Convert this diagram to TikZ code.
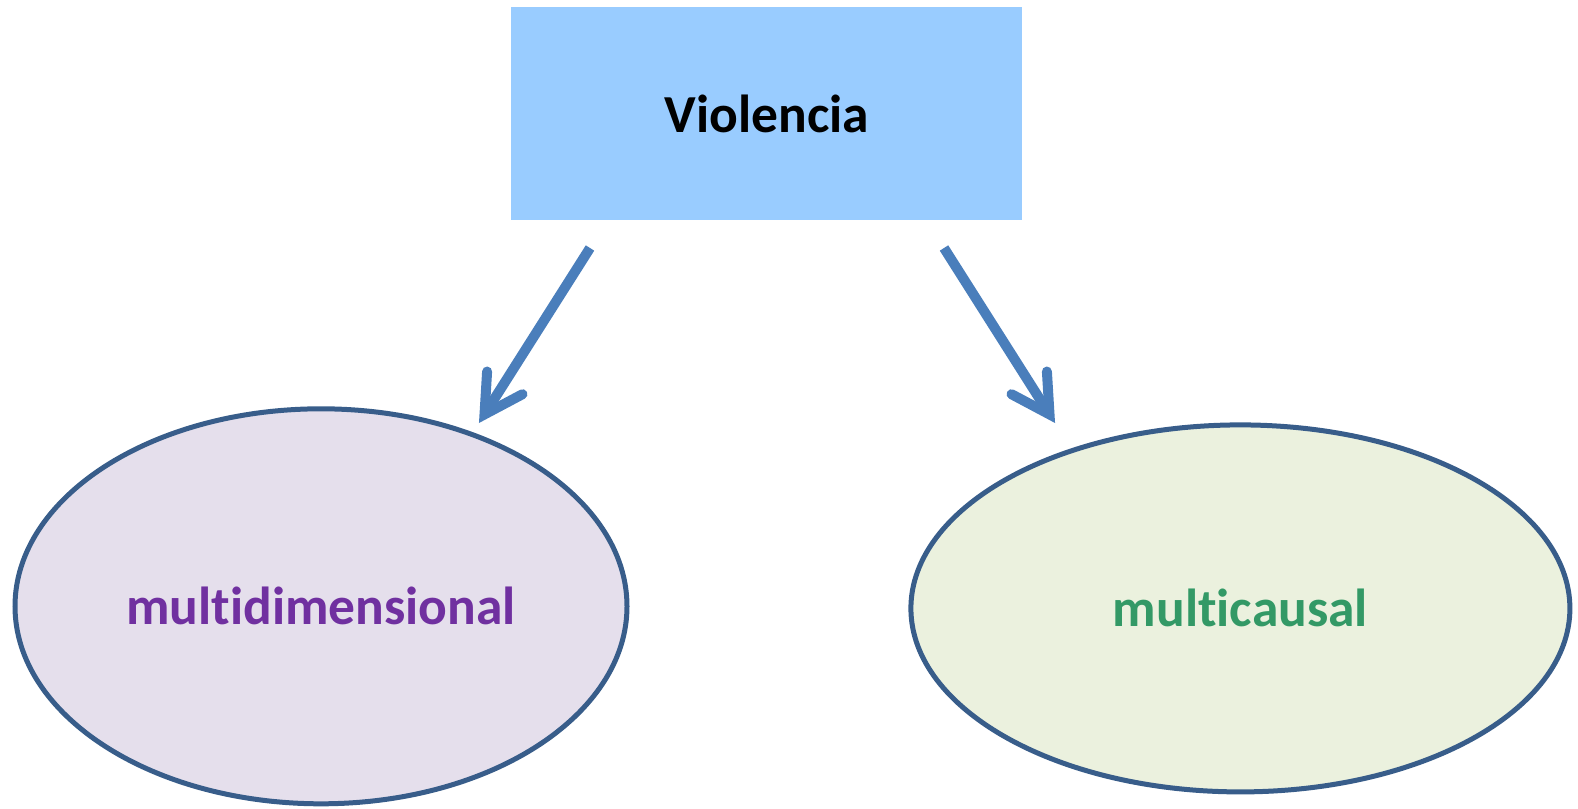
\documentclass[tikz,border=0pt]{standalone}
\usepackage{fontspec}
\setmainfont[Ligatures=NoCommon]{Carlito}
\usetikzlibrary{shapes.geometric}
\definecolor{boxblue}{HTML}{99CCFF}
\definecolor{arrowblue}{HTML}{4A7EBB}
\definecolor{edgeblue}{HTML}{385D8A}
\definecolor{lavender}{HTML}{E5DFEC}
\definecolor{palegreen}{HTML}{EBF1DE}
\definecolor{textpurple}{HTML}{7030A0}
\definecolor{textgreen}{HTML}{339966}
\begin{document}
\begin{tikzpicture}[x=1pt,y=-1pt,
  lbl/.style={font=\fontsize{53.5}{60}\selectfont\bfseries},
  topbox/.style={rectangle, fill=boxblue, draw=none, minimum width=511pt, minimum height=213pt, inner sep=0pt, lbl},
  oval/.style={ellipse, draw=edgeblue, line width=5pt, inner sep=0pt, lbl},
  shaftline/.style={draw=arrowblue, line width=10pt, line cap=butt},
  headline/.style={draw=arrowblue, line width=10pt, line cap=round, line join=miter}]
\useasboundingbox (0,0) rectangle (1578,808);
\node[topbox] (v) at (766.8,113.7) {Violencia};
\node[oval, fill=lavender, minimum width=612pt, minimum height=395pt, text=textpurple] (md) at (321,606.3) {multidimensional};
\node[oval, fill=palegreen, minimum width=659pt, minimum height=367pt, text=textgreen] (mc) at (1240.4,608.4) {multicausal};
% left arrow
\coordinate (s1) at (590,248);
\coordinate (j1) at (484.5,414.4);
\coordinate (a1) at (487.1,371.5);
\coordinate (b1) at (522.5,394.2);
\path[shaftline] (s1) -- (j1);
\path[headline] (a1) -- (j1) -- (b1);
% right arrow
\coordinate (s2) at (944,248);
\coordinate (j2) at (1049.5,414.4);
\coordinate (a2) at (1046.9,371.5);
\coordinate (b2) at (1011.5,394.2);
\path[shaftline] (s2) -- (j2);
\path[headline] (a2) -- (j2) -- (b2);
\end{tikzpicture}
\end{document}
